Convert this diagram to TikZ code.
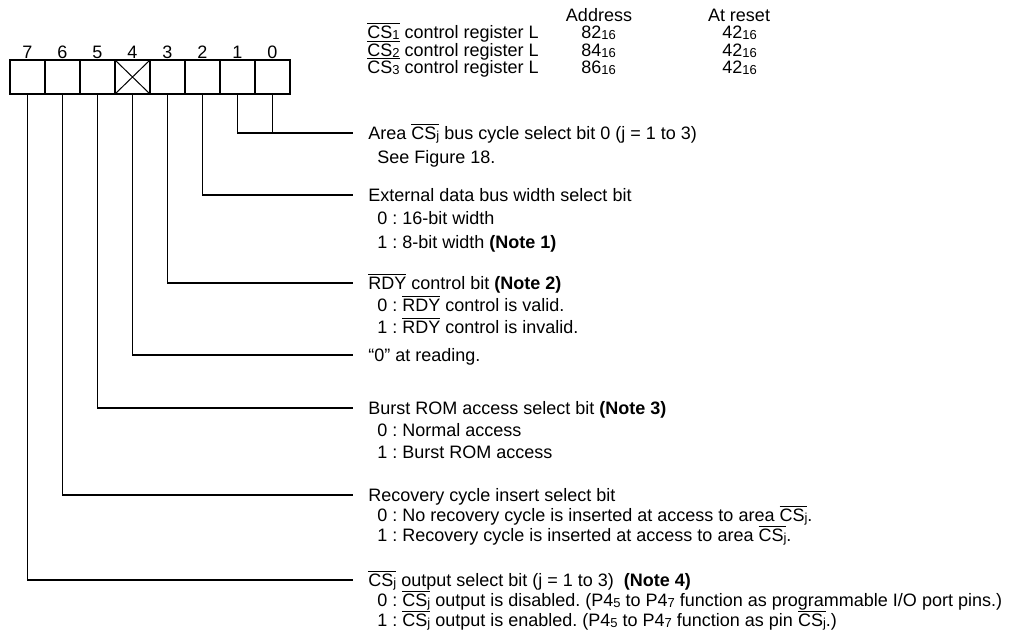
\documentclass[tikz,border=0pt]{standalone}
\usepackage{fontspec}
\setmainfont{Liberation Sans}
\frenchspacing

\newcommand{\ovl}[1]{$\overline{\hbox{#1}}$}
\newcommand{\lo}[1]{\raisebox{-0.5pt}{\fontsize{6.5pt}{6.5pt}\selectfont #1}}

\begin{document}
\begin{tikzpicture}[x=0.5pt, y=-0.5pt, font=\fontsize{9pt}{9pt}\selectfont,
  cell/.style={draw, line width=1pt, minimum width=17.5pt, minimum height=17pt,
  inner sep=0pt, outer sep=0pt},
  txt/.style={inner sep=0pt, text height=6.4pt, text depth=0pt, anchor=west},
  lead/.style={line width=0.6pt, shorten >=7.5pt}]
  \useasboundingbox (0,0) rectangle (1021,634);
  % register table
  \node[txt, anchor=center] (addr) at (599,15) {Address};
  \node[txt, anchor=center] (rst) at (739,15) {At reset};
  \foreach \k/\a/\y in {1/82/32, 2/84/50, 3/86/67} {
    \node[txt] (reg\k) at (367,\y) {\ovl{CS\lo{\k}} control register L};
    \node[txt] (adr\k) at (581,\y) {\a\lo{16}};
    \node[txt] (rst\k) at (722,\y) {42\lo{16}};
  }
  % bit cells, b7 left ... b0 right
  \foreach \b [count=\i from 0] in {7,6,...,0} {
    \node[cell] (b\b) at (27.5+35*\i, 77) {};
    \node[txt, anchor=center] (n\b) at (27.5+35*\i, 52) {\b};
  }
  \draw[line width=0.5pt] (b4.north west) -- (b4.south east)
    (b4.north east) -- (b4.south west);
  % bit descriptions
  \node[txt] (d10) at (368,133) {Area \ovl{CS\lo{j}} bus cycle select bit 0 (j = 1 to 3)};
  \node[txt] (d10a) at (377,157) {See Figure 18.};
  \node[txt] (d2) at (368,195) {External data bus width select bit};
  \node[txt] (d2a) at (377,218) {0 : 16-bit width};
  \node[txt] (d2b) at (377,242) {1 : 8-bit width \textbf{(Note 1)}};
  \node[txt] (d3) at (368,283) {\ovl{RDY} control bit \textbf{(Note 2)}};
  \node[txt] (d3a) at (377,305) {0 : \ovl{RDY} control is valid.};
  \node[txt] (d3b) at (377,327) {1 : \ovl{RDY} control is invalid.};
  \node[txt] (d4) at (368,355) {“0” at reading.};
  \node[txt] (d5) at (368,408) {Burst ROM access select bit \textbf{(Note 3)}};
  \node[txt] (d5a) at (377,430) {0 : Normal access};
  \node[txt] (d5b) at (377,452) {1 : Burst ROM access};
  \node[txt] (d6) at (368,495) {Recovery cycle insert select bit};
  \node[txt] (d6a) at (377,515) {0 : No recovery cycle is inserted at access to area \ovl{CS\lo{j}}.};
  \node[txt] (d6b) at (377,535) {1 : Recovery cycle is inserted at access to area \ovl{CS\lo{j}}.};
  \node[txt] (d7) at (368,580) {\ovl{CS\lo{j}} output select bit (j = 1 to 3)\ \ \textbf{(Note 4)}};
  \node[txt] (d7a) at (377,600) {0 : \ovl{CS\lo{j}} output is disabled. (P4\lo{5} to P4\lo{7} function as programmable I/O port pins.)};
  \node[txt] (d7b) at (377,620) {1 : \ovl{CS\lo{j}} output is enabled. (P4\lo{5} to P4\lo{7} function as pin \ovl{CS\lo{j}}.)};
  % leaders: bits 1 and 0 share one line
  \draw[lead] (b1.south) |- (d10.west);
  \draw[line width=0.6pt] (b0.south) -- (b0.south |- d10.west);
  \foreach \b in {2,...,7} \draw[lead] (b\b.south) |- (d\b.west);
\end{tikzpicture}
\end{document}
